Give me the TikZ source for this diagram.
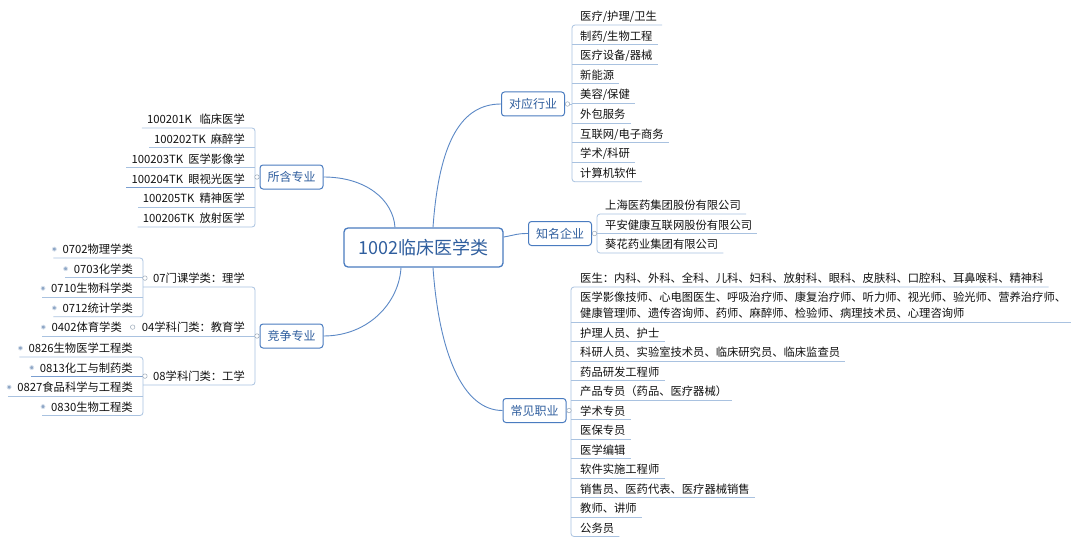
\documentclass[tikz,border=0pt]{standalone}
\usepackage{fontspec}
\setmainfont{Noto Sans CJK SC}
\usetikzlibrary{calc}
\definecolor{boxc}{HTML}{4A7CC0}
\definecolor{boxt}{HTML}{2F5E9E}
\definecolor{mainc}{HTML}{5B88C6}
\definecolor{linec}{HTML}{A9C2E0}
\definecolor{lined}{HTML}{7A9ED0}
\definecolor{leaft}{HTML}{111111}
\definecolor{mkc}{HTML}{9AA8B8}
\definecolor{bulc}{HTML}{8DA6C6}
\begin{document}
\begin{tikzpicture}[x=1pt,y=-1pt,
  topicbox/.style={draw=boxc,line width=1pt,rounded corners=3pt,fill=white,text=boxt,
    font=\fontsize{12}{14}\selectfont,minimum width=63pt,minimum height=24pt,inner sep=0pt},
  centralbox/.style={draw=boxc,line width=1.3pt,rounded corners=4pt,fill=white,text=boxt,
    font=\fontsize{18}{20}\selectfont,minimum width=159pt,minimum height=39pt,inner sep=0pt},
  leaf/.style={font=\fontsize{11.3}{16}\selectfont,text=leaft,inner xsep=0pt,inner ysep=4.2pt,
    text height=9pt,text depth=0pt},
  rleaf/.style={leaf,anchor=south west},
  lleaf/.style={leaf,anchor=south east},
  mainline/.style={draw=mainc,line width=0.9pt},
  ul/.style={draw=linec,line width=0.8pt},
  uld/.style={draw=lined,line width=0.8pt},
  brk/.style={draw=linec,line width=0.8pt,rounded corners=3pt},
  marker/.style={circle,draw=mkc,fill=white,line width=0.5pt,inner sep=0pt,minimum size=4.5pt},
  bullet/.style={circle,fill=bulc,draw=bulc!35,line width=0.8pt,inner sep=0pt,minimum size=4pt}
]
\useasboundingbox[fill=white] (0,0) rectangle (1080,543);

% central and main topics
\node[centralbox] (c) at (423.5,247.5) {1002临床医学类};
\node[topicbox] (s1) at (291.5,177) {所含专业};
\node[topicbox] (s2) at (291.5,336) {竞争专业};
\node[topicbox] (d1) at (533,104) {对应行业};
\node[topicbox] (d2) at (560,233.5) {知名企业};
\node[topicbox] (d3) at (534.5,410.5) {常见职业};

\draw[mainline] ($(c.north)+(-28.5,0)$) .. controls +(-2,-28) and +(42,0) .. (s1.east);
\draw[mainline] ($(c.south)+(-22.5,0)$) .. controls +(-2,35) and +(45,0) .. (s2.east);
\draw[mainline] ($(c.north)+(9.5,0)$) .. controls +(6,-85) and +(-40,0) .. (d1.west);
\draw[mainline] ($(c.south)+(9.5,0)$) .. controls +(6,85) and +(-40,0) .. (d3.west);
\draw[mainline] ($(c.east)+(0,-10.5)$) .. controls +(12,-2) and +(-12,0) .. (d2.west);

% ---------- 对应行业 ----------
\coordinate (b1) at (572,104);
\node[rleaf] (a1) at (580,25) {医疗/护理/卫生};
\node[rleaf] (a2) at (580,44.6) {制药/生物工程};
\node[rleaf] (a3) at (580,64.2) {医疗设备/器械};
\node[rleaf] (a4) at (580,83.8) {新能源};
\node[rleaf] (a5) at (580,103.4) {美容/保健};
\node[rleaf] (a6) at (580,123) {外包服务};
\node[rleaf] (a7) at (580,142.6) {互联网/电子商务};
\node[rleaf] (a8) at (580,162.2) {学术/科研};
\node[rleaf] (a9) at (580,181.8) {计算机软件};
\draw[brk] ([xshift=5pt]a1.south east) -- (b1|-a1.south) -- (b1|-a9.south) -- ([xshift=5pt]a9.south east);
\foreach \i in {2,...,8} \draw[ul] (b1|-a\i.south) -- ([xshift=5pt]a\i.south east);
\draw[ul] (d1.east) -- (b1);
\node[marker] (m1) at ([xshift=2.5pt]d1.east) {};

% ---------- 知名企业 ----------
\coordinate (b2) at (597,233.5);
\node[rleaf] (e1) at (605,214) {上海医药集团股份有限公司};
\node[rleaf] (e2) at (605,233.5) {平安健康互联网股份有限公司};
\node[rleaf] (e3) at (605,253) {葵花药业集团有限公司};
\draw[brk] ([xshift=5pt]e1.south east) -- (b2|-e1.south) -- (b2|-e3.south) -- ([xshift=5pt]e3.south east);
\draw[ul] (b2|-e2.south) -- ([xshift=5pt]e2.south east);
\draw[ul] (d2.east) -- (b2);
\node[marker] (m2) at ([xshift=2.5pt]d2.east) {};

% ---------- 常见职业 ----------
\coordinate (b3) at (571,410.5);
\node[rleaf] (k1) at (580,287) {医生：内科、外科、全科、儿科、妇科、放射科、眼科、皮肤科、口腔科、耳鼻喉科、精神科};
\node[rleaf] (k2) at (580,322) {\vbox{\baselineskip=16pt\hbox{医学影像技师、心电图医生、呼吸治疗师、康复治疗师、听力师、视光师、验光师、营养治疗师、}\hbox{健康管理师、遗传咨询师、药师、麻醉师、检验师、病理技术员、心理咨询师}}};
\node[rleaf] (k3) at (580,341.5) {护理人员、护士};
\node[rleaf] (k4) at (580,361) {科研人员、实验室技术员、临床研究员、临床监查员};
\node[rleaf] (k5) at (580,380.5) {药品研发工程师};
\node[rleaf] (k6) at (580,400) {产品专员（药品、医疗器械）};
\node[rleaf] (k7) at (580,419.5) {学术专员};
\node[rleaf] (k8) at (580,439) {医保专员};
\node[rleaf] (k9) at (580,458.5) {医学编辑};
\node[rleaf] (k10) at (580,478) {软件实施工程师};
\node[rleaf] (k11) at (580,497.5) {销售员、医药代表、医疗器械销售};
\node[rleaf] (k12) at (580,517) {教师、讲师};
\node[rleaf] (k13) at (580,536.5) {公务员};
\draw[brk] ([xshift=5pt]k1.south east) -- (b3|-k1.south) -- (b3|-k13.south) -- ([xshift=5pt]k13.south east);
\foreach \i in {2,...,12} \draw[ul] (b3|-k\i.south) -- ([xshift=5pt]k\i.south east);
\draw[ul] (d3.east) -- (b3);
\node[marker] (m3) at ([xshift=2.5pt]d3.east) {};

% ---------- 所含专业 ----------
\coordinate (b4) at (255,177);
\node[lleaf] (p1) at (245,128) {100201K~~~临床医学};
\node[lleaf] (p2) at (245,147.8) {100202TK~~麻醉学};
\node[lleaf] (p3) at (245,167.6) {100203TK~~医学影像学};
\node[lleaf] (p4) at (245,187.4) {100204TK~~眼视光医学};
\node[lleaf] (p5) at (245,207.2) {100205TK~~精神医学};
\node[lleaf] (p6) at (245,227) {100206TK~~放射医学};
\draw[brk] ([xshift=-5pt]p1.south west) -- (b4|-p1.south) -- (b4|-p6.south) -- ([xshift=-5pt]p6.south west);
\foreach \i in {2,3,5} \draw[ul] (b4|-p\i.south) -- ([xshift=-5pt]p\i.south west);
\draw[uld] (b4|-p4.south) -- ([xshift=-5pt]p4.south west);
\draw[ul] (s1.west) -- (b4);
\node[marker] (m4) at ([xshift=-2.5pt]s1.west) {};

% ---------- 竞争专业 ----------
\coordinate (b5) at (255,336);
\coordinate (b6) at (143,278);
\coordinate (b7) at (143,378);
\node[lleaf] (q1) at (245,287) {07门课学类：理学};
\node[lleaf] (q2) at (245,336) {04学科门类：教育学};
\node[lleaf] (q3) at (245,385) {08学科门类：工学};
\node[lleaf] (v1) at (122,336) {0402体育学类};
\draw[brk] (b6|-q1.south) -- (b5|-q1.south) -- (b5|-q3.south) -- (b7|-q3.south);
\draw[ul] (b5|-q2.south) -- ([xshift=-9pt]v1.south west);
\draw[ul] (s2.west) -- (b5);

\node[lleaf] (u1) at (133,258) {0702物理学类};
\node[lleaf] (u2) at (133,277.6) {0703化学类};
\node[lleaf] (u3) at (133,297.2) {0710生物科学类};
\node[lleaf] (u4) at (133,316.8) {0712统计学类};
\draw[brk] ([xshift=-9pt]u1.south west) -- (b6|-u1.south) -- (b6|-u4.south) -- ([xshift=-9pt]u4.south west);
\foreach \i in {2,3} \draw[ul] (b6|-u\i.south) -- ([xshift=-9pt]u\i.south west);

\node[lleaf] (w1) at (133,357) {0826生物医学工程类};
\node[lleaf] (w2) at (133,376.5) {0813化工与制药类};
\node[lleaf] (w3) at (133,396) {0827食品科学与工程类};
\node[lleaf] (w4) at (133,415.5) {0830生物工程类};
\draw[brk] ([xshift=-9pt]w1.south west) -- (b7|-w1.south) -- (b7|-w4.south) -- ([xshift=-9pt]w4.south west);
\draw[uld] (b7|-w2.south) -- ([xshift=-9pt]w2.south west);
\draw[ul] (b7|-w3.south) -- ([xshift=-9pt]w3.south west);

\node[marker] (m5) at ([xshift=-2.5pt]s2.west) {};
\node[marker] (m6) at ([xshift=-8pt]q1.west) {};
\node[marker] (m7) at ([xshift=-9pt]q2.west) {};
\node[marker] (m8) at ([xshift=-8pt]q3.west) {};
\foreach \n in {u1,u2,u3,u4,w1,w2,w3,w4,v1} \node[bullet] at ([xshift=-8pt]\n.west) {};
\end{tikzpicture}
\end{document}
